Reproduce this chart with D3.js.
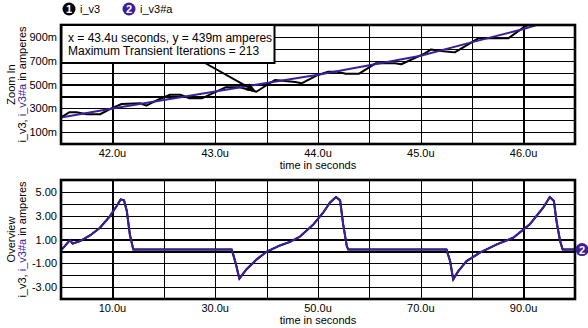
<!DOCTYPE html>
<html>
<head>
<meta charset="utf-8">
<script src="https://cdn.jsdelivr.net/npm/d3@7/dist/d3.min.js"></script>
<style>
  html, body { margin: 0; padding: 0; background: #fff; }
  svg { display: block; }
  text { font-family: "Liberation Sans", Arial, sans-serif; fill: #000; }
</style>
</head>
<body>
<svg id="chart" width="588" height="328"></svg>
<script>
// ---- Zoom-in window: i_v3 (simulated) and i_v3#a (reference), current in mA
const zoomTimeV3 = [41.50, 41.58, 41.65, 41.75, 41.88, 41.99, 42.09, 42.27, 42.33, 42.44, 42.56, 42.66,
                    42.75, 42.87, 43.10, 43.24, 43.40, 43.58, 43.78, 43.84, 44.00, 44.10, 44.18, 44.27,
                    44.40, 44.56, 44.75, 44.81, 45.04, 45.10, 45.22, 45.33, 45.56, 45.85, 46.01, 46.15];
const zoomCurV3  = [224, 266, 266, 250, 250, 300, 336, 342, 322, 370, 414, 414,
                    384, 384, 476, 476, 439, 538, 521, 510, 580, 608, 608, 591,
                    591, 678, 678, 670, 762, 795, 780, 770, 888, 888, 986, 1040];
const zoomTimeV3a = [41.5, 42.0, 42.5, 43.0, 43.5, 44.0, 44.5, 45.0, 45.5, 46.0, 46.2];
const zoomCurV3a  = [222, 298, 370, 442, 512, 582, 662, 742, 856, 966, 1020];

// ---- Overview: full 0..100u transient, current in A (both traces coincide)
const overviewTime = [0, 1.75, 2.27, 3.7, 5.64, 7.59, 9.53, 10.8, 11.6, 12.26, 12.8, 13.4, 14.07,
                      33.2, 33.5, 34.05, 34.7, 36.1, 38.07, 40.0, 42.6, 44.55, 46.5, 49.1, 51.0,
                      52.3, 53.5, 54.3, 54.9, 55.6, 55.9, 75.0, 75.7, 76.3, 77.3, 78.9, 81.5,
                      84.8, 88.0, 91.2, 93.8, 95.1, 95.9, 96.4, 97.1, 97.6, 100];
const overviewCur  = [0.08, 0.95, 0.65, 0.87, 1.34, 1.99, 2.97, 3.8, 4.37, 4.3, 3.4, 1.4, 0.15,
                      0.15, -0.25, -1.1, -2.29, -1.5, -0.67, -0.03, 0.5, 0.8, 1.25, 2.27, 3.25,
                      4.09, 4.57, 4.29, 2.27, 0.45, 0.15, 0.15, -0.81, -2.35, -1.66, -0.81, -0.11,
                      0.59, 1.15, 2.27, 3.67, 4.57, 4.23, 2.55, 0.87, 0.15, 0.15];

// ---- Tick labels
const zoomXTicks = [42, 43, 44, 45, 46];
const zoomYTicks = [100, 300, 500, 700, 900];
const overviewXTicks = [10, 30, 50, 70, 90];
const overviewYTicks = [5, 3, 1, -1, -3];

// ---- Probe annotation
const probeTime = 43.4, probeCur = 439, maxIterations = 213;

const PURPLE = "#3c1e9a";
const svg = d3.select("#chart");

const left = 61, right = 575;
const zoomPanel = { top: 25, bottom: 144 };
const overPanel = { top: 180, bottom: 299 };

const xZoom = d3.scaleLinear().domain([41.5, 46.5]).range([left, right]);
const yZoom = d3.scaleLinear().domain([0, 1000]).range([zoomPanel.bottom, zoomPanel.top]);
const xOver = d3.scaleLinear().domain([0, 100]).range([left, right]);
const yOver = d3.scaleLinear().domain([-4, 6]).range([overPanel.bottom, overPanel.top]);

function drawPanel(id, x, y, panel, xTicks, yTicks, xFmt, yFmt, title) {
  const g = svg.append("g");
  const h = panel.bottom - panel.top;

  g.append("clipPath").attr("id", id)
    .append("rect").attr("x", left).attr("y", panel.top)
    .attr("width", right - left).attr("height", h);

  // grid
  const gx = g.append("g").attr("transform", `translate(0,${panel.bottom})`)
    .call(d3.axisBottom(x).ticks(10).tickSize(-h).tickFormat(""));
  const gy = g.append("g").attr("transform", `translate(${left},0)`)
    .call(d3.axisLeft(y).ticks(10).tickSize(-(right - left)).tickFormat(""));
  [gx, gy].forEach(a => {
    a.select(".domain").remove();
    a.selectAll("line").attr("stroke", "#000").attr("stroke-width", 1.2).attr("shape-rendering", "crispEdges");
  });

  // tick labels
  g.selectAll(".xl").data(xTicks).enter().append("text")
    .attr("x", d => x(d)).attr("y", panel.bottom + 13)
    .attr("text-anchor", "middle").attr("font-size", 11).text(xFmt);
  g.selectAll(".yl").data(yTicks).enter().append("text")
    .attr("x", left - 4).attr("y", d => y(d) + 4)
    .attr("text-anchor", "end").attr("font-size", 11).text(yFmt);

  g.append("text").attr("x", (left + right) / 2).attr("y", panel.bottom + 25)
    .attr("text-anchor", "middle").attr("font-size", 11).text("time in seconds");

  const cy = (panel.top + panel.bottom) / 2;
  g.append("text").attr("transform", `translate(15,${cy}) rotate(-90)`)
    .attr("text-anchor", "middle").attr("font-size", 11).text(title);
  const t2 = g.append("text").attr("transform", `translate(25.5,${cy}) rotate(-90)`)
    .attr("text-anchor", "middle").attr("font-size", 11);
  t2.append("tspan").text("i_v3, ");
  t2.append("tspan").style("fill", PURPLE).text("i_v3#a");
  t2.append("tspan").text(" in amperes");

  return g;
}

function frame(panel) {
  svg.append("rect").attr("x", left).attr("y", panel.top)
    .attr("width", right - left).attr("height", panel.bottom - panel.top)
    .attr("fill", "none").attr("stroke", "#000").attr("stroke-width", 2.6);
}

// ---------- Zoom In panel
const gz = drawPanel("clipZoom", xZoom, yZoom, zoomPanel, zoomXTicks, zoomYTicks,
  d => d.toFixed(1) + "u", d => d + "m", "Zoom In");

const lineZoom = d3.line().x(d => xZoom(d[0])).y(d => yZoom(d[1]));
const plotZ = gz.append("g").attr("clip-path", "url(#clipZoom)");
plotZ.append("path").datum(d3.zip(zoomTimeV3, zoomCurV3))
  .attr("d", lineZoom).attr("fill", "none").attr("stroke", "#000")
  .attr("stroke-width", 2).attr("stroke-linejoin", "round");
plotZ.append("path").datum(d3.zip(zoomTimeV3a, zoomCurV3a))
  .attr("d", lineZoom).attr("fill", "none").attr("stroke", PURPLE)
  .attr("stroke-width", 2).attr("stroke-linejoin", "round");

frame(zoomPanel);

// probe box and arrow
const box = { x: 61.5, y: 25, w: 213, h: 38 };
svg.append("rect").attr("x", box.x).attr("y", box.y).attr("width", box.w).attr("height", box.h)
  .attr("fill", "#fff").attr("stroke", "#000").attr("stroke-width", 2);
svg.append("text").attr("x", 68).attr("y", 42).attr("font-size", 12)
  .text(`x = ${probeTime}u seconds, y = ${probeCur}m amperes`);
svg.append("text").attr("x", 68).attr("y", 55).attr("font-size", 12)
  .text(`Maximum Transient Iterations = ${maxIterations}`);

const ax0 = 205, ay0 = box.y + box.h;
const ax1 = xZoom(probeTime), ay1 = yZoom(probeCur);
const ang = Math.atan2(ay1 - ay0, ax1 - ax0);
const hl = 10, hw = 4;
const bx = ax1 - hl * Math.cos(ang), by = ay1 - hl * Math.sin(ang);
svg.append("line").attr("x1", ax0).attr("y1", ay0).attr("x2", bx).attr("y2", by)
  .attr("stroke", "#000").attr("stroke-width", 2);
svg.append("path").attr("fill", "#000").attr("d",
  `M${ax1},${ay1}L${bx + hw * Math.sin(ang)},${by - hw * Math.cos(ang)}L${bx - hw * Math.sin(ang)},${by + hw * Math.cos(ang)}Z`);

// ---------- Overview panel
const go = drawPanel("clipOver", xOver, yOver, overPanel, overviewXTicks, overviewYTicks,
  d => d.toFixed(1) + "u", d => d.toFixed(2), "Overview");

const lineOver = d3.line().x(d => xOver(d[0])).y(d => yOver(d[1]));
const overData = d3.zip(overviewTime, overviewCur);
const plotO = go.append("g").attr("clip-path", "url(#clipOver)");
plotO.append("path").datum(overData).attr("d", lineOver).attr("fill", "none")
  .attr("stroke", "#000").attr("stroke-width", 2);
plotO.append("path").datum(overData).attr("d", lineOver).attr("fill", "none")
  .attr("stroke", PURPLE).attr("stroke-width", 2).attr("stroke-linejoin", "round");

frame(overPanel);

// trace end marker
const last = overData[overData.length - 1];
function badge(cx, cy, fill, label) {
  svg.append("circle").attr("cx", cx).attr("cy", cy).attr("r", 6.5).attr("fill", fill);
  svg.append("text").attr("x", cx).attr("y", cy + 4).attr("text-anchor", "middle")
    .attr("font-size", 11).attr("font-weight", "bold").style("fill", "#fff").text(label);
}
badge(xOver(last[0]) + 7, yOver(last[1]), PURPLE, "2");

// ---------- Legend
const legend = [{ label: "i_v3", color: "#000", x: 69 }, { label: "i_v3#a", color: PURPLE, x: 129 }];
legend.forEach((d, i) => {
  badge(d.x, 9, d.color, String(i + 1));
  svg.append("text").attr("x", d.x + 11).attr("y", 13).attr("font-size", 11).text(d.label);
});
</script>
</body>
</html>
